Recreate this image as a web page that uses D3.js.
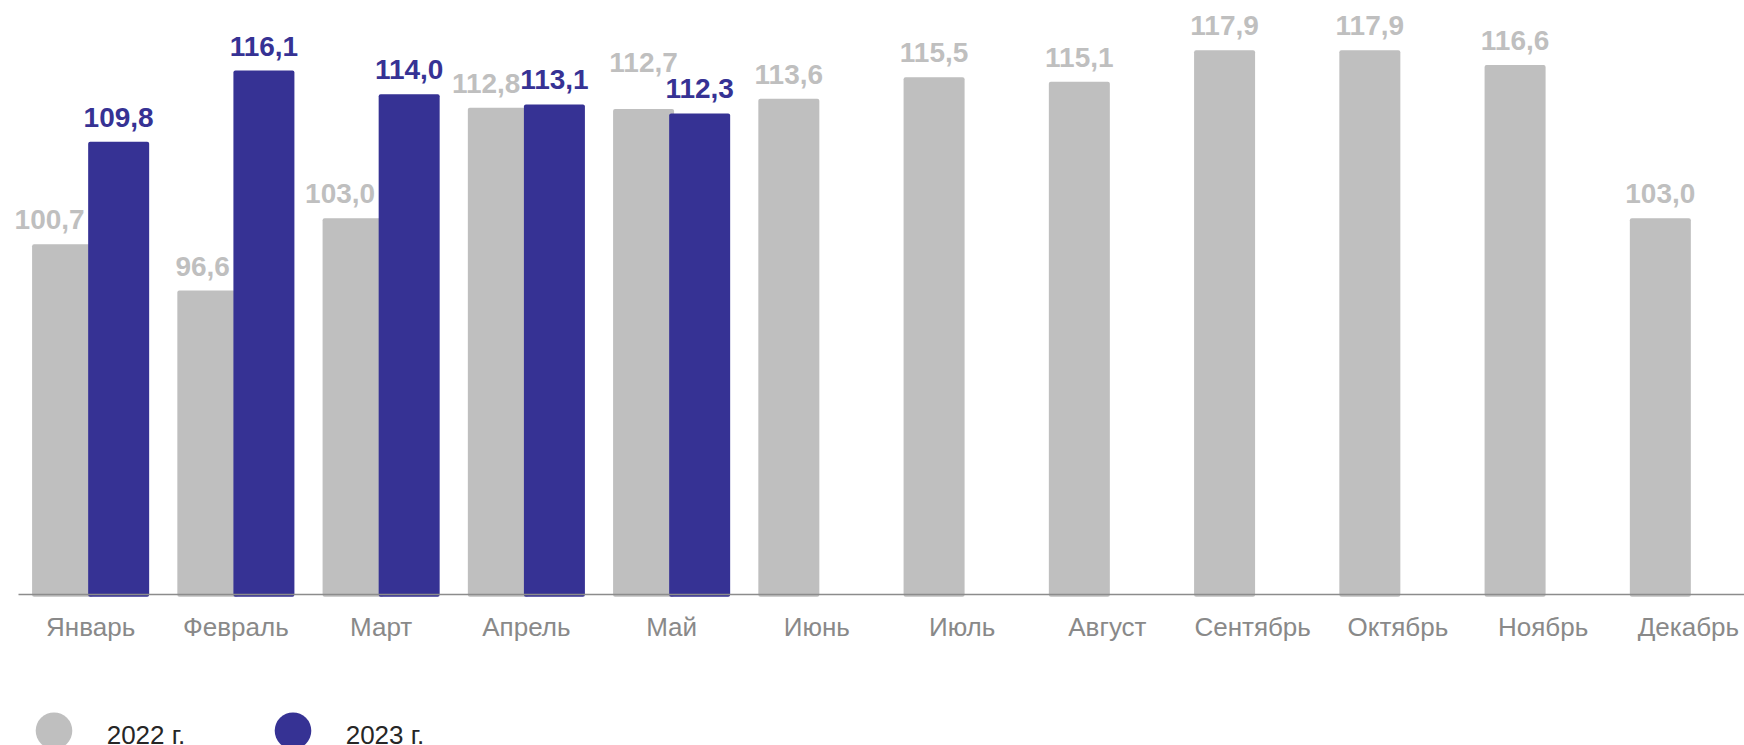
<!DOCTYPE html>
<html>
<head>
<meta charset="utf-8">
<script src="https://cdn.jsdelivr.net/npm/d3@7"></script>
<style>
  body { margin: 0; background: #fff; }
  svg { display: block; font-family: "Liberation Sans", Arial, sans-serif; }
</style>
</head>
<body>
<script>
// data
const months = ["Январь", "Февраль", "Март", "Апрель", "Май", "Июнь",
  "Июль", "Август", "Сентябрь", "Октябрь", "Ноябрь", "Декабрь"];
const series = ["2022 г.", "2023 г."];
const values2022 = [100.7, 96.6, 103.0, 112.8, 112.7, 113.6, 115.5, 115.1, 117.9, 117.9, 116.6, 103.0];
const values2023 = [109.8, 116.1, 114.0, 113.1, 112.3];

const width = 1744, height = 745;
const grey = "#bfbfbf", blue = "#363294";

let svg = d3.select("body").append("svg")
  .attr("width", width)
  .attr("height", height);

// scales
let x0 = d3.scaleBand().domain(months).range([18, 1761])
  .paddingInner(0.194).paddingOuter(0.097);
const barW = 61;
let x1 = d3.scalePoint().domain(series).range([0, x0.bandwidth() - barW]);
let y = d3.scaleLinear().domain([69.7, 120]).range([594, 26.6]);

const fmt = v => d3.format(".1f")(v).replace(".", ",");

// rows for the bars
let rows = [];
months.forEach((m, i) => {
  rows.push({ m: m, s: series[0], v: values2022[i], i: i });
  if (values2023[i] != null) rows.push({ m: m, s: series[1], v: values2023[i], i: i });
});

svg.append("g").selectAll("rect")
  .data(rows)
  .enter()
  .append("rect")
  .attr("x", d => x0(d.m) + x1(d.s))
  .attr("y", d => y(d.v))
  .attr("width", barW)
  .attr("height", d => y.range()[0] + 2.7 - y(d.v))
  .attr("rx", 2)
  .attr("fill", d => d.s == series[0] ? grey : blue);

// x axis
let xAxis = d3.axisBottom(x0).tickSize(0).tickPadding(0);
let gx = svg.append("g")
  .attr("transform", "translate(0," + y.range()[0] + ")")
  .call(xAxis);
gx.select(".domain").attr("stroke", "#8c8c8c").attr("stroke-width", 1.3);
gx.selectAll(".tick text")
  .attr("y", 42)
  .attr("dy", 0)
  .attr("fill", "#898989")
  .style("font-size", "26px")
  .style("font-family", "'Liberation Sans', Arial, sans-serif");

// value labels
let labels = svg.append("g")
  .style("font-size", "28px")
  .style("font-weight", "bold");

rows.forEach(d => {
  let cx = x0(d.m) + x1(d.s) + barW / 2;
  let base = y(d.v) - 15;
  let anchor = "middle";
  let other = values2023[d.i];
  if (d.s == series[0] && other != null) {
    if (d.v > other) {
      // lifted above the 2023 label
      base = y(other) - 15 - 26;
    } else {
      anchor = "end";
      cx = x0(d.m) + x1(series[1]) - 3.5;
    }
  }
  labels.append("text")
    .attr("x", cx)
    .attr("y", base)
    .attr("text-anchor", anchor)
    .attr("fill", d.s == series[0] ? grey : blue)
    .text(fmt(d.v));
});

// legend
let legend = svg.append("g");
const legX = [54, 293];
series.forEach((s, i) => {
  legend.append("circle")
    .attr("cx", legX[i])
    .attr("cy", 730.7)
    .attr("r", 18.3)
    .attr("fill", i == 0 ? grey : blue);
  legend.append("text")
    .attr("x", legX[i] + 52.7)
    .attr("y", 743.6)
    .attr("fill", "#262626")
    .style("font-size", "26px")
    .text(s);
});
</script>
</body>
</html>
